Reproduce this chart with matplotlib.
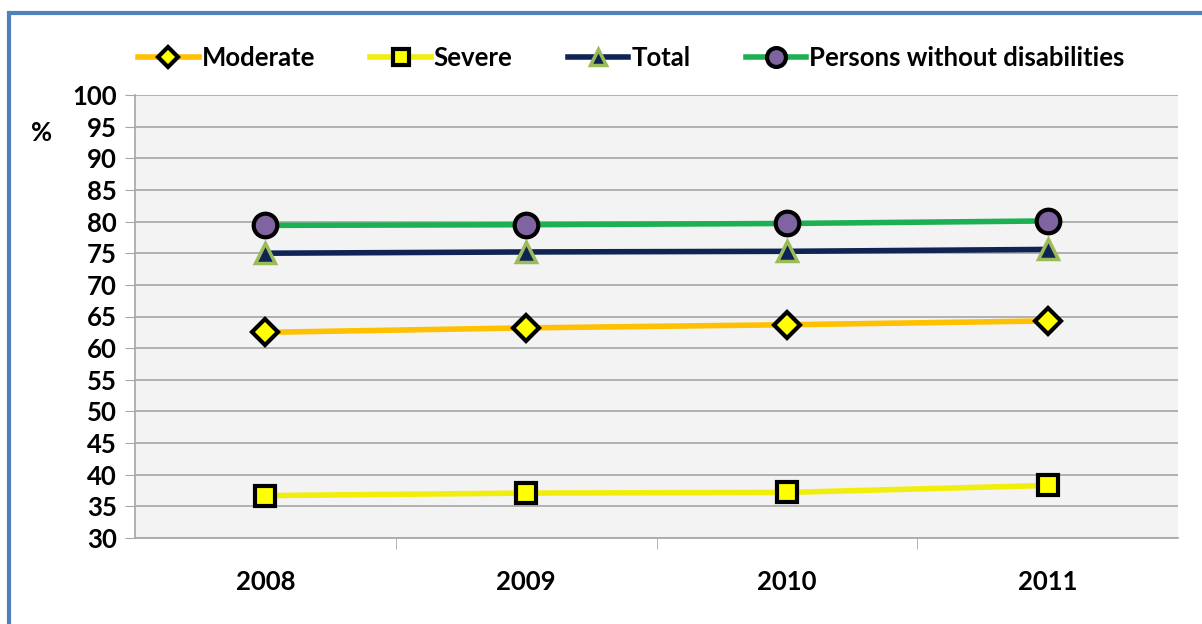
import matplotlib
matplotlib.use("Agg")
import matplotlib.pyplot as plt
from matplotlib.patches import Rectangle

plt.rcParams['font.family'] = ['Lato', 'DejaVu Sans']
plt.rcParams['font.weight'] = 'bold'

years = ["2008", "2009", "2010", "2011"]
moderate = [62.5, 63.2, 63.7, 64.3]
severe = [36.7, 37.1, 37.2, 38.3]
total = [75.0, 75.2, 75.3, 75.6]
no_disab = [79.4, 79.5, 79.7, 80.1]

series = [
    ("Moderate", moderate, dict(color="#FFC000", marker="D", ms=13, mfc="#FFFF00", mec="black", mew=3)),
    ("Severe", severe, dict(color="#F2EE0C", marker="s", ms=14, mfc="#FFFF00", mec="black", mew=3)),
    ("Total", total, dict(color="#0F2454", marker="^", ms=15, mfc="#0F2454", mec="#9BBB59", mew=2.5)),
    ("Persons without disabilities", no_disab,
     dict(color="#1DB053", marker="o", ms=17, mfc="#8064A2", mec="black", mew=3)),
]

FS = 18.5

fig = plt.figure(figsize=(12.02, 6.24), dpi=100)
ax = fig.add_axes([135 / 1202, 1 - 538 / 624, (1178 - 135) / 1202, (538 - 95) / 624])
ax.set_facecolor("#F3F3F3")

x = list(range(len(years)))
for name, vals, st in series:
    ax.plot(x, vals, lw=4, label=name, zorder=3, **st)

ax.set_xlim(-0.5, 3.5)
ax.set_ylim(30, 100)
ax.set_yticks(range(30, 101, 5))
ax.grid(axis="y", color="#A6A6A6", lw=1.2, zorder=0)
ax.set_axisbelow(True)

ax.set_xticks(x)
ax.set_xticklabels(years, fontsize=FS, fontweight="bold")
ax.set_xticks([0.5, 1.5, 2.5], minor=True)
ax.tick_params(axis="x", which="major", length=0, pad=23)
ax.tick_params(axis="x", which="minor", length=8, color="#A6A6A6", direction="out")
ax.tick_params(axis="y", length=7, color="#A6A6A6", labelsize=FS, pad=6)
for lbl in ax.get_yticklabels():
    lbl.set_fontweight("bold")

for s in ["top", "right"]:
    ax.spines[s].set_visible(False)
for s in ["left", "bottom"]:
    ax.spines[s].set_color("#A6A6A6")
    ax.spines[s].set_linewidth(1.2)

fig.text(42 / 1202, 1 - 133 / 624, "%", fontsize=FS, fontweight="bold", ha="center", va="center")

fig.legend(loc="center left", bbox_to_anchor=(128 / 1202, 1 - 58 / 624), ncol=4,
           frameon=False, fontsize=FS, handlelength=2.35, handletextpad=0.12,
           columnspacing=2.15, borderaxespad=0, markerscale=0.8)

# outer frame
fig.patches.append(Rectangle((9 / 1202, -0.2), 1.2, 1 - 13 / 624 + 0.2, transform=fig.transFigure,
                             fill=False, edgecolor="#4F81BD", lw=3, figure=fig))

fig.savefig("out.png", dpi=100)
